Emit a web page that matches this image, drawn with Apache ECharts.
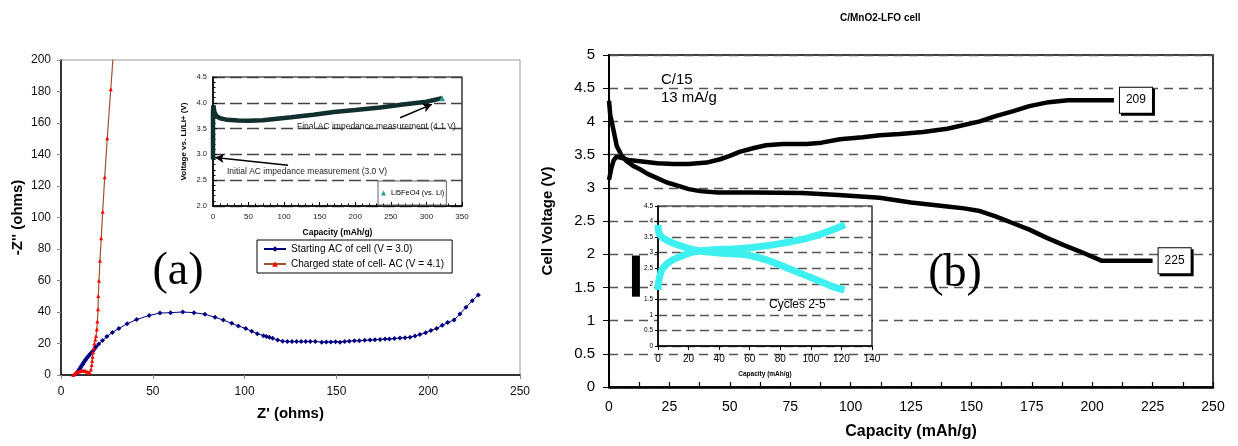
<!DOCTYPE html>
<html>
<head>
<meta charset="utf-8">
<script src="https://cdn.jsdelivr.net/npm/echarts@6/dist/echarts.min.js"></script>
<style>
html, body { margin: 0; padding: 0; background: #fff; }
#chart { width: 1238px; height: 446px; }
</style>
</head>
<body>
<div id="chart"></div>
<script>
// ---- (a) impedance, Z' vs -Z'' (ohms)
var startingAC = [[8.3,0.8],[8.8,1.6],[9.3,2.4],[9.8,3.3],[10.3,4.2],[10.8,5.1],[11.3,6.0],[11.8,6.9],[12.3,7.8],[12.8,8.7],[13.3,9.6],[13.9,10.5],[14.5,11.4],[15.1,12.3],[15.8,13.2],[16.5,14.1],[17.3,15.1],[18.1,16.4],[19.1,17.9],[20.6,19.7],[22.6,21.9],[25.0,24.4],[28.0,27.0],[31.5,29.6],[36.0,32.5],[41.2,35.2],[48.0,37.8],[53.9,39.3],[59.7,39.6],[66.3,40.0],[72.4,39.6],[78.4,38.6],[83.9,36.6],[88.4,34.9],[93.0,32.8],[96.6,31.1],[100.6,29.6],[103.9,27.7],[106.9,26.2],[110.3,25.0],[111.9,24.4],[113.5,23.9],[115.3,23.3],[118.0,22.2],[120.7,21.4],[123.3,21.2],[125.8,21.2],[128.3,21.2],[130.8,21.2],[133.3,21.2],[135.8,21.3],[138.5,21.3],[142.0,20.8],[144.5,21.0],[147.0,21.0],[149.5,21.1],[152.0,20.8],[154.5,21.3],[157.0,21.5],[159.8,21.7],[162.5,21.8],[165.4,22.0],[168.3,22.2],[171.0,22.4],[173.8,22.6],[176.5,22.8],[178.9,22.9],[181.6,23.1],[184.6,23.5],[187.4,23.7],[190.1,23.9],[192.8,24.8],[195.5,25.7],[198.6,26.9],[201.5,28.2],[204.6,29.6],[207.7,31.6],[210.6,33.3],[214.1,35.0],[217.3,38.8],[220.6,43.0],[224.0,47.2],[227.3,50.8]];
var chargedAC = [[6.7,0],[7.2,0.6],[7.7,1.1],[8.3,1.6],[9.0,2.0],[9.8,2.3],[10.7,2.6],[11.6,2.8],[12.5,2.8],[13.4,2.5],[14.2,2.0],[15.0,1.5],[15.8,1.2],[16.3,3.5],[16.7,6.3],[17.0,9.0],[17.2,11.6],[17.5,14.5],[17.8,17.0],[18.2,20.0],[18.7,22.5],[19.1,24.8],[19.5,29.0],[19.8,33.9],[20.2,41.7],[20.3,50.2],[20.7,59.9],[21.2,72.6],[21.9,86.8],[22.7,103.7],[23.8,125.5],[25.2,150.3],[27.1,181.4],[29.2,215]];

// ---- (a) inset, Li5FeO4 voltage vs capacity
var li5feo4 = [[0,2.9],[0,3.2],[0,3.5],[0,3.8],[0.5,3.95],[2,3.82],[5,3.74],[10,3.7],[20,3.67],[35,3.655],[50,3.65],[70,3.66],[90,3.69],[110,3.72],[141,3.77],[170,3.82],[200,3.86],[235,3.91],[270,3.97],[300,4.02],[322,4.09]];
var arrowsA = [[[263,3.71],[307.6,3.97]], [[105.5,2.79],[2.8,2.94]]];

// ---- (b) C/MnO2-LFO cell, first cycle
var chargeB = [[0,3.12],[1,3.3],[2,3.42],[3.2,3.47],[5,3.45],[8,3.42],[12.8,3.4],[20,3.37],[26.6,3.36],[33,3.36],[40.4,3.38],[46,3.43],[50,3.48],[54,3.54],[60,3.6],[65,3.64],[72,3.66],[81.8,3.66],[88,3.68],[95.6,3.73],[105,3.76],[112,3.79],[120.4,3.81],[130,3.84],[140,3.89],[153.5,4.0],[160,4.08],[167,4.15],[174,4.23],[182,4.29],[190,4.32],[209,4.32]];
var dischargeB = [[0,4.31],[0.5,4.1],[1.5,3.93],[3.2,3.63],[5,3.5],[7.3,3.4],[10,3.33],[12.8,3.28],[16,3.21],[19.7,3.15],[24,3.08],[29.4,3.02],[33,2.98],[37.7,2.95],[45,2.93],[60,2.93],[80,2.92],[95,2.89],[112,2.85],[125,2.78],[140,2.72],[147,2.69],[153.5,2.65],[160,2.57],[167,2.47],[174,2.37],[181,2.25],[188,2.14],[195,2.04],[204,1.9],[225,1.9]];
var endCaps = ['209', '225'];
var blockB = [[9.5,1.98],[12.8,1.36]];

// ---- (b) inset, cycles 2-5
var cycleCharge = [[0,1.8],[0.3,2.0],[1,2.2],[2.5,2.45],[5.4,2.62],[9,2.75],[14.2,2.87],[19,2.96],[23,3.02],[27.5,3.05],[35,3.09],[49,3.12],[60,3.16],[71,3.22],[80,3.29],[92.9,3.41],[100,3.5],[108,3.62],[115,3.75],[122.3,3.9]];
var cycleDischarge = [[0,3.89],[0.3,3.7],[1,3.6],[2.5,3.5],[5.4,3.41],[10,3.3],[16.6,3.19],[23,3.1],[30,3.04],[40,2.99],[50,2.96],[60,2.91],[71,2.77],[80,2.6],[86,2.48],[93,2.34],[100,2.2],[107,2.06],[114.5,1.91],[122,1.8]];

var FONT = 'Liberation Sans, Arial, sans-serif';
var myChart = echarts.init(document.getElementById('chart'));

function dashSplit(dash, color, w) {
    return { show: true, lineStyle: { type: dash, color: color, width: w } };
}

var liData = li5feo4.map(function (p, i) {
    return i === li5feo4.length - 1 ? { value: p, symbol: 'triangle', symbolSize: 6 } : p;
});

option = {
    animation: false,
    backgroundColor: '#fff',
    title: {
        text: 'C/MnO2-LFO cell', left: 835, top: 8,
        textStyle: { fontFamily: FONT, fontSize: 10, fontWeight: 'bold', color: '#000' }
    },
    legend: [{
        data: ['Starting AC of cell (V = 3.0)', 'Charged state of cell- AC (V = 4.1)'],
        orient: 'vertical', left: 257, top: 240,
        borderColor: '#000', borderWidth: 1, padding: [4, 8, 4, 6], itemGap: 5,
        itemWidth: 22, itemHeight: 7, selectedMode: false,
        textStyle: { fontFamily: FONT, fontSize: 10, color: '#000' }
    }, {
        data: [{ name: 'Li5FeO4 (vs. Li)', icon: 'triangle' }],
        left: 378, top: 181,
        borderColor: '#666', borderWidth: 1, padding: [8, 2, 8, 3],
        itemWidth: 5, itemHeight: 5, selectedMode: false,
        textStyle: { fontFamily: FONT, fontSize: 7.5, color: '#000' }
    }],
    grid: [
        { left: 61, top: 60, width: 459, height: 315, show: true, borderColor: '#999', borderWidth: 1, z: 0 },
        { left: 213, top: 77, width: 249, height: 129, show: true, backgroundColor: '#fff', borderColor: '#000', borderWidth: 1.2, z: 1 },
        { left: 609, top: 55, width: 604, height: 332, show: true, borderColor: '#000', borderWidth: 1.5, z: 0 },
        { left: 658, top: 206, width: 214, height: 140, show: true, backgroundColor: '#fff', borderColor: '#000', borderWidth: 1.2, z: 1 }
    ],
    xAxis: [{
        gridIndex: 0, type: 'value', min: 0, max: 250, interval: 50, z: 1,
        name: "Z' (ohms)", nameLocation: 'middle', nameGap: 31,
        nameTextStyle: { fontFamily: FONT, fontSize: 15, fontWeight: 'bold', color: '#000' },
        axisLine: { lineStyle: { color: '#000', width: 1.5 } },
        axisTick: { length: 4, lineStyle: { color: '#888' } },
        axisLabel: { margin: 11, fontFamily: FONT, fontSize: 12, color: '#111' },
        splitLine: { show: false }
    }, {
        gridIndex: 1, type: 'value', min: 0, max: 350, interval: 50, z: 2,
        name: 'Capacity (mAh/g)', nameLocation: 'middle', nameGap: 22,
        nameTextStyle: { fontFamily: FONT, fontSize: 8.5, fontWeight: 'bold', color: '#000' },
        axisLine: { lineStyle: { color: '#000', width: 1.5 } },
        axisTick: { inside: true, length: 4, lineStyle: { color: '#000' } },
        minorTick: { show: true, splitNumber: 5, length: 2.5, lineStyle: { color: '#000' } },
        axisLabel: { margin: 7, fontFamily: FONT, fontSize: 8, color: '#222' },
        splitLine: { show: false }
    }, {
        gridIndex: 2, type: 'value', min: 0, max: 250, interval: 12.5, z: 0,
        name: 'Capacity (mAh/g)', nameLocation: 'middle', nameGap: 37,
        nameTextStyle: { fontFamily: FONT, fontSize: 16, fontWeight: 'bold', color: '#000' },
        axisLine: { lineStyle: { color: '#000', width: 2.5 } },
        axisTick: { inside: true, length: 5, lineStyle: { color: '#000', width: 1.2 } },
        axisLabel: {
            margin: 13, fontFamily: FONT, fontSize: 14, color: '#000',
            formatter: function (v) { return v % 25 === 0 ? String(v) : ''; }
        },
        splitLine: { show: false }
    }, {
        gridIndex: 3, type: 'value', min: 0, max: 140, interval: 20, z: 2,
        name: 'Capacity (mAh/g)', nameLocation: 'middle', nameGap: 25,
        nameTextStyle: { fontFamily: FONT, fontSize: 6.5, fontWeight: 'bold', color: '#000' },
        axisLine: { lineStyle: { color: '#000', width: 1.5 } },
        axisTick: { length: 4, lineStyle: { color: '#000' } },
        axisLabel: { margin: 8, fontFamily: FONT, fontSize: 10, color: '#000' },
        splitLine: { show: false }
    }],
    yAxis: [{
        gridIndex: 0, type: 'value', min: 0, max: 200, interval: 20, z: 1,
        name: "-Z'' (ohms)", nameLocation: 'middle', nameGap: 36,
        nameTextStyle: { fontFamily: FONT, fontSize: 15, fontWeight: 'bold', color: '#000' },
        axisLine: { show: true, lineStyle: { color: '#000', width: 1.5 } },
        axisTick: { show: true, length: 4, lineStyle: { color: '#888' } },
        axisLabel: { margin: 10, fontFamily: FONT, fontSize: 12, color: '#111' },
        splitLine: { show: false }
    }, {
        gridIndex: 1, type: 'value', min: 2, max: 4.5, interval: 0.5, z: 2,
        name: 'Voltage vs. Li/Li+ (V)', nameLocation: 'middle', nameGap: 25,
        nameTextStyle: { fontFamily: FONT, fontSize: 8, fontWeight: 'bold', color: '#000' },
        axisLine: { show: true, lineStyle: { color: '#000', width: 1.5 } },
        axisTick: { show: true, inside: true, length: 4, lineStyle: { color: '#000' } },
        minorTick: { show: true, splitNumber: 5, length: 2.5, lineStyle: { color: '#000' } },
        axisLabel: { margin: 6, fontFamily: FONT, fontSize: 7.5, color: '#222',
            formatter: function (v) { return v.toFixed(1); } },
        splitLine: dashSplit([12, 5], '#444', 1.3)
    }, {
        gridIndex: 2, type: 'value', min: 0, max: 5, interval: 0.5, z: 0,
        name: 'Cell Voltage (V)', nameLocation: 'middle', nameGap: 54,
        nameTextStyle: { fontFamily: FONT, fontSize: 15, fontWeight: 'bold', color: '#000' },
        axisLine: { show: true, lineStyle: { color: '#000', width: 2 } },
        axisTick: { show: true, length: 6, lineStyle: { color: '#000' } },
        axisLabel: { margin: 14, fontFamily: FONT, fontSize: 15, color: '#000' },
        splitLine: dashSplit([9, 6], '#555', 1.3)
    }, {
        gridIndex: 3, type: 'value', min: 0, max: 4.5, interval: 0.5, z: 2,
        axisLine: { show: true, lineStyle: { color: '#000', width: 1.5 } },
        axisTick: { show: true, length: 3, lineStyle: { color: '#000' } },
        axisLabel: { margin: 5, fontFamily: FONT, fontSize: 6.5, color: '#000' },
        splitLine: dashSplit([9, 5], '#555', 1.3)
    }],
    series: [{
        name: 'Starting AC of cell (V = 3.0)', type: 'line', xAxisIndex: 0, yAxisIndex: 0,
        data: startingAC, symbol: 'diamond', symbolSize: 5,
        itemStyle: { color: '#000080' }, lineStyle: { color: '#000080', width: 1 }
    }, {
        name: 'Charged state of cell- AC (V = 4.1)', type: 'line', xAxisIndex: 0, yAxisIndex: 0,
        data: chargedAC, symbol: 'triangle', symbolSize: 4,
        itemStyle: { color: '#ff0000' }, lineStyle: { color: '#a0522d', width: 1.2 }
    }, {
        name: 'Li5FeO4 (vs. Li)', type: 'line', xAxisIndex: 1, yAxisIndex: 1, z: 3,
        data: liData, symbol: 'none',
        itemStyle: { color: '#2a9d8f' }, lineStyle: { color: '#102f2d', width: 4.5 },
        markLine: {
            silent: true, symbol: ['none', 'arrow'], symbolSize: [7, 9],
            lineStyle: { color: '#000', width: 1.5, type: 'solid' },
            label: { show: false },
            data: arrowsA.map(function (a) { return [{ coord: a[0] }, { coord: a[1] }]; })
        }
    }, {
        name: 'charge', type: 'line', xAxisIndex: 2, yAxisIndex: 2,
        data: chargeB, symbol: 'none',
        lineStyle: { color: '#000', width: 4.5 },
        endLabel: {
            show: true, formatter: endCaps[0], distance: 6,
            fontFamily: FONT, fontSize: 12, color: '#000',
            backgroundColor: '#fff', borderColor: '#000', borderWidth: 1,
            padding: [7, 6, 6, 6], shadowColor: '#000', shadowOffsetX: 2, shadowOffsetY: 2, shadowBlur: 0
        },
        markArea: {
            silent: true, itemStyle: { color: '#000', opacity: 1 }, label: { show: false },
            data: [[{ coord: blockB[0] }, { coord: blockB[1] }]]
        }
    }, {
        name: 'discharge', type: 'line', xAxisIndex: 2, yAxisIndex: 2,
        data: dischargeB, symbol: 'none',
        lineStyle: { color: '#000', width: 4.5 },
        endLabel: {
            show: true, formatter: endCaps[1], distance: 6,
            fontFamily: FONT, fontSize: 12, color: '#000',
            backgroundColor: '#fff', borderColor: '#000', borderWidth: 1,
            padding: [7, 6, 6, 6], shadowColor: '#000', shadowOffsetX: 2, shadowOffsetY: 2, shadowBlur: 0
        }
    }, {
        name: 'cycles charge', type: 'line', xAxisIndex: 3, yAxisIndex: 3, z: 3,
        data: cycleCharge, symbol: 'none', smooth: 0.3,
        lineStyle: { color: '#3ff0f0', width: 7 }
    }, {
        name: 'cycles discharge', type: 'line', xAxisIndex: 3, yAxisIndex: 3, z: 3,
        data: cycleDischarge, symbol: 'none', smooth: 0.3,
        lineStyle: { color: '#3ff0f0', width: 7 }
    }],
    graphic: [
        { type: 'text', x: 178, y: 272, z: 10, style: { text: '(a)', font: '46px "Liberation Serif"', fill: '#000', align: 'center', verticalAlign: 'middle', textAlign: 'center', textVerticalAlign: 'middle' } },
        { type: 'text', x: 955, y: 274, z: 10, style: { text: '(b)', font: '46px "Liberation Serif"', fill: '#000', align: 'center', verticalAlign: 'middle', textAlign: 'center', textVerticalAlign: 'middle' } },
        { type: 'text', x: 661, y: 80, z: 10, style: { text: 'C/15', font: '15px "Liberation Sans"', fill: '#000', verticalAlign: 'middle', textVerticalAlign: 'middle' } },
        { type: 'text', x: 661, y: 98, z: 10, style: { text: '13 mA/g', font: '15px "Liberation Sans"', fill: '#000', verticalAlign: 'middle', textVerticalAlign: 'middle' } },
        { type: 'text', x: 769, y: 305, z: 10, style: { text: 'Cycles 2-5', font: '12px "Liberation Sans"', fill: '#000', verticalAlign: 'middle', textVerticalAlign: 'middle' } },
        { type: 'text', x: 297, y: 127, z: 10, style: { text: 'Final AC impedance measurement (4.1 V)', font: '8.5px "Liberation Sans"', fill: '#222', verticalAlign: 'middle', textVerticalAlign: 'middle' } },
        { type: 'text', x: 227, y: 172, z: 10, style: { text: 'Initial AC impedance measurement (3.0 V)', font: '8.5px "Liberation Sans"', fill: '#222', verticalAlign: 'middle', textVerticalAlign: 'middle' } }
    ]
};

myChart.setOption(option);
window.addEventListener("resize", function () {
    myChart.resize();
});
</script>
</body>
</html>
